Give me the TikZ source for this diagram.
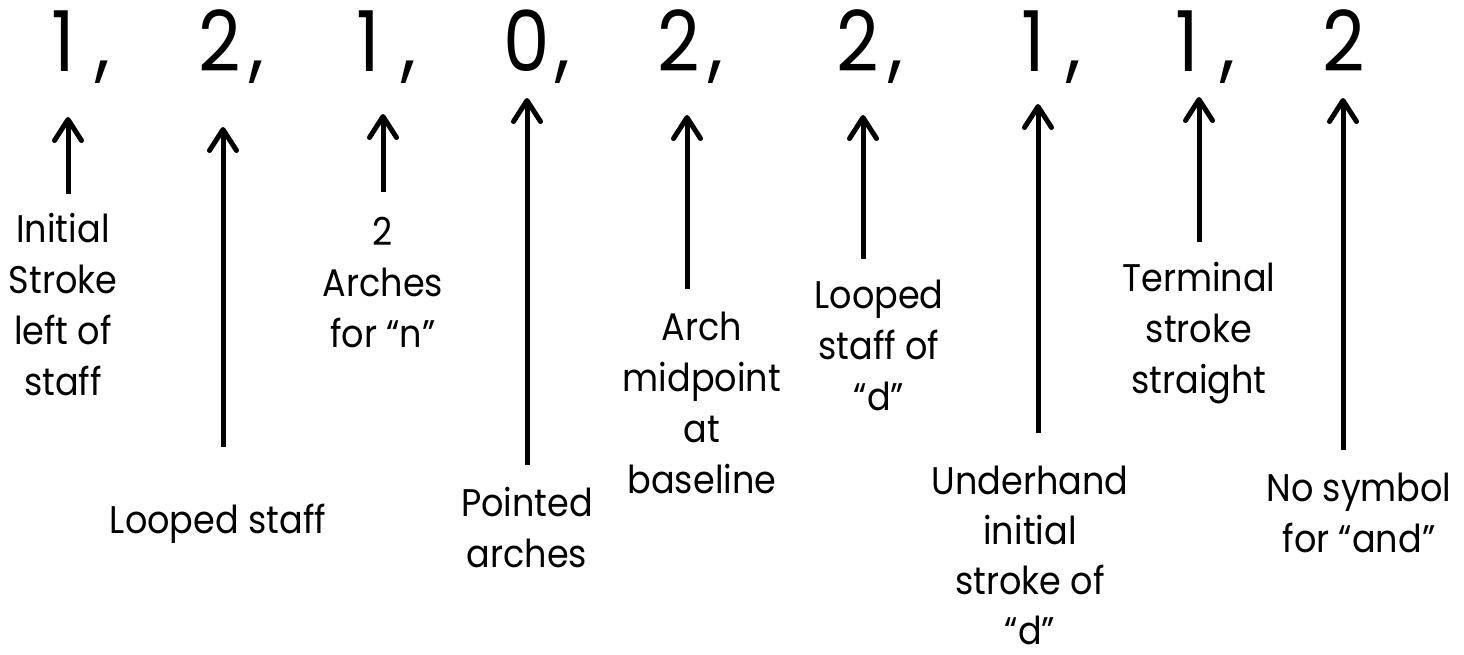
\documentclass[tikz,border=0pt]{standalone}
\usepackage{fontspec}
\setmainfont{Poppins}
\newfontfamily\lblfont{Poppins}[FakeStretch=0.91]
\newfontfamily\digfont{Poppins}[FakeStretch=0.88]
\usetikzlibrary{arrows.meta}
\tikzset{
  digit/.style={font=\digfont\fontsize{84}{84}\selectfont, anchor=base, inner sep=0pt},
  lbl/.style={font=\lblfont\fontsize{38.5}{51}\selectfont, align=center, anchor=base, inner sep=0pt},
  arr/.style={line width=5pt, -{Straight Barb[length=21pt,width=27pt,round]}},
}
\begin{document}
\begin{tikzpicture}[x=1pt,y=-1pt]
\useasboundingbox (0,0) rectangle (1464,654);
% numbers
\node[digit] (d1) at (63,71) {1};
\node[digit] (c1) at (103,71) {,};
\node[digit] (d2) at (220,71) {2};
\node[digit] (c2) at (257,71) {,};
\node[digit] (d3) at (368,71) {1};
\node[digit] (c3) at (409,71) {,};
\node[digit] (d4) at (527,71) {0};
\node[digit] (c4) at (563,71) {,};
\node[digit] (d5) at (679,71) {2};
\node[digit] (c5) at (716,71) {,};
\node[digit] (d6) at (858,71) {2};
\node[digit] (c6) at (896,71) {,};
\node[digit] (d7) at (1033,71) {1};
\node[digit] (c7) at (1074,71) {,};
\node[digit] (d8) at (1187,71) {1};
\node[digit] (c8) at (1228,71) {,};
\node[digit] (d9) at (1344,71) {2};
% labels (anchor = baseline of last line)
\node[lbl] (l1) at (63,395) {Initial\\Stroke\\left of\\staff};
\node[lbl] (l2) at (218,533) {Looped staff};
\node[lbl] (l3) at (383,347) {2\\Arches\\for “n”};
\node[lbl] (l4) at (527,567) {Pointed\\arches};
\node[lbl] (l5) at (702,493) {Arch\\midpoint\\at\\baseline};
\node[lbl] (l6) at (879,410) {Looped\\staff of\\“d”};
\node[lbl, font=\lblfont\fontsize{38.5}{50}\selectfont] (l7) at (1030,644) {Underhand\\initial\\stroke of\\“d”};
\node[lbl] (l8) at (1199,393) {Terminal\\stroke\\straight};
\node[lbl] (l9) at (1359,552) {No symbol\\for “and”};
% arrow ends
\coordinate (t1) at (68,117);   \coordinate (b1) at (68,194);
\coordinate (t2) at (223,127);  \coordinate (b2) at (223,447);
\coordinate (t3) at (383,114);  \coordinate (b3) at (383,192);
\coordinate (t4) at (527,98);   \coordinate (b4) at (527,465);
\coordinate (t5) at (687,115);  \coordinate (b5) at (687,289);
\coordinate (t6) at (863,115);  \coordinate (b6) at (863,259);
\coordinate (t7) at (1038,104); \coordinate (b7) at (1038,433);
\coordinate (t8) at (1199,97);  \coordinate (b8) at (1199,242);
\coordinate (t9) at (1343,98);  \coordinate (b9) at (1343,450);
\foreach \i in {1,...,9} { \draw[arr] (b\i) -- (t\i); }
\end{tikzpicture}
\end{document}
